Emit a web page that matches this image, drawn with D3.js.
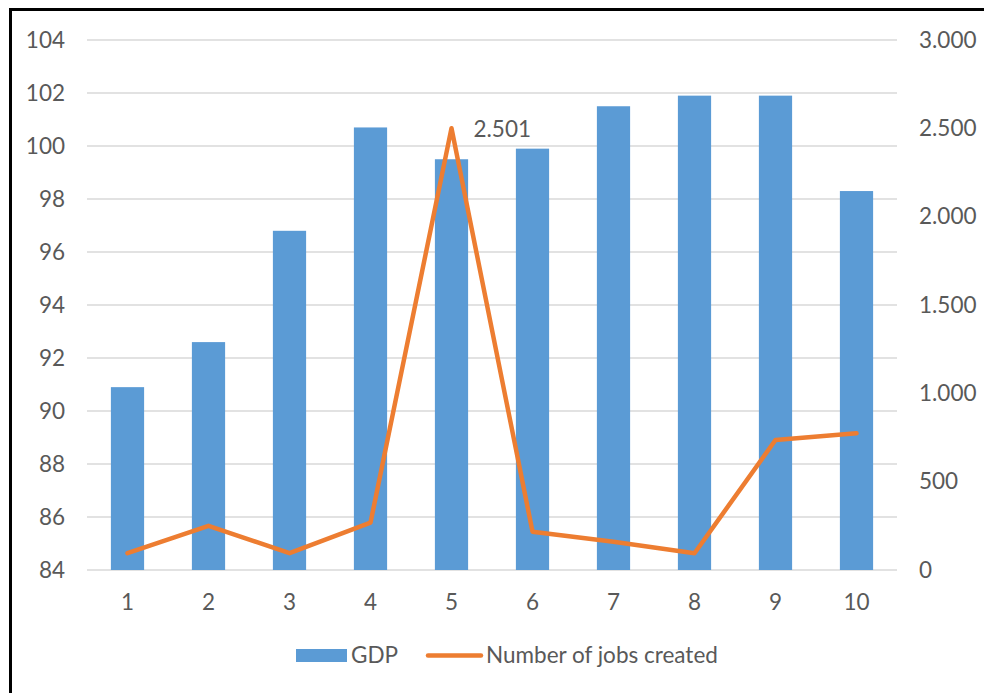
<!DOCTYPE html>
<html>
<head>
<meta charset="utf-8">
<script src="https://cdn.jsdelivr.net/npm/d3@7/dist/d3.min.js"></script>
<style>
  html, body { margin: 0; padding: 0; background: #fff; }
  svg { display: block; }
  text { font-family: Lato, "Open Sans", sans-serif; fill: #595959; }
</style>
</head>
<body>
<svg id="chart" width="984" height="693"></svg>
<script>
// Periods on the x axis
const categories = ["1", "2", "3", "4", "5", "6", "7", "8", "9", "10"];
// GDP (left axis)
const gdp = [90.9, 92.6, 96.8, 100.7, 99.5, 99.9, 101.5, 101.9, 101.9, 98.3];
// Number of jobs created (right axis)
const jobs = [95, 250, 95, 268, 2501, 217, 160, 95, 736, 774];
// Axis ticks
const leftTicks = [84, 86, 88, 90, 92, 94, 96, 98, 100, 102, 104];
const rightTicks = [0, 500, 1000, 1500, 2000, 2500, 3000];
// Series names
const seriesNames = ["GDP", "Number of jobs created"];

const BLUE = "#5b9bd5", ORANGE = "#ed7d31", GRID = "#d9d9d9";
const FS = 22.5;
const fmtDots = d => d3.format(",")(d).replace(/,/g, ".");

const svg = d3.select("#chart");
const plot = { left: 87, right: 897, top: 40, bottom: 570 };

const x = d3.scaleBand().domain(categories).range([plot.left, plot.right]).paddingInner(0.59).paddingOuter(0.295);
const xc = d3.scaleBand().domain(categories).range([plot.left, plot.right]);
const yL = d3.scaleLinear().domain([84, 104]).range([plot.bottom, plot.top]);
const yR = d3.scaleLinear().domain([0, 3000]).range([plot.bottom, plot.top]);

// Gridlines
svg.append("g").selectAll("line").data(leftTicks).join("line")
  .attr("x1", plot.left).attr("x2", plot.right)
  .attr("y1", d => yL(d)).attr("y2", d => yL(d))
  .attr("stroke", GRID).attr("stroke-width", 1.3);

function styleAxis(g) {
  g.select(".domain").remove();
  g.selectAll("text").attr("font-size", FS).attr("fill", "#595959")
    .style("font-family", "Lato, sans-serif");
}

// Left axis labels
svg.append("g").attr("transform", `translate(${plot.left - 22},0)`)
  .call(d3.axisLeft(yL).tickValues(leftTicks).tickSize(0).tickPadding(0))
  .call(styleAxis);

// Right axis labels
svg.append("g").attr("transform", `translate(${plot.right + 22},0)`)
  .call(d3.axisRight(yR).tickValues(rightTicks).tickFormat(fmtDots).tickSize(0).tickPadding(0))
  .call(styleAxis);

// Category labels
svg.append("g").attr("transform", `translate(0,${plot.bottom + 24})`)
  .call(d3.axisBottom(xc).tickSize(0).tickPadding(0))
  .call(styleAxis);

// GDP bars
svg.append("g").selectAll("rect").data(gdp).join("rect")
  .attr("x", (d, i) => x(categories[i]))
  .attr("width", x.bandwidth())
  .attr("y", d => yL(d))
  .attr("height", d => yL(84) - yL(d))
  .attr("fill", BLUE);

// Jobs line
const line = d3.line()
  .x((d, i) => xc(categories[i]) + xc.bandwidth() / 2)
  .y(d => yR(d));
svg.append("path").datum(jobs)
  .attr("d", line)
  .attr("fill", "none").attr("stroke", ORANGE)
  .attr("stroke-width", 4.5).attr("stroke-linejoin", "round").attr("stroke-linecap", "round");

// Data label on the peak
const peakIdx = jobs.indexOf(d3.max(jobs));
svg.append("text")
  .attr("x", xc(categories[peakIdx]) + xc.bandwidth() / 2 + 22)
  .attr("y", yR(jobs[peakIdx]) + 9)
  .attr("font-size", FS)
  .text(fmtDots(jobs[peakIdx]));

// Legend
const lg = svg.append("g");
lg.append("rect").attr("x", 296).attr("y", 649).attr("width", 51).attr("height", 13).attr("fill", BLUE);
lg.append("text").attr("x", 351).attr("y", 663).attr("font-size", FS).text(seriesNames[0]);
lg.append("line").attr("x1", 428).attr("x2", 481).attr("y1", 655.5).attr("y2", 655.5)
  .attr("stroke", ORANGE).attr("stroke-width", 4.5).attr("stroke-linecap", "round");
lg.append("text").attr("x", 486).attr("y", 663).attr("font-size", FS).text(seriesNames[1]);

// Frame
svg.append("path")
  .attr("d", "M10.5,693 L10.5,9.5 L984,9.5")
  .attr("fill", "none").attr("stroke", "#000").attr("stroke-width", 3);
</script>
</body>
</html>
